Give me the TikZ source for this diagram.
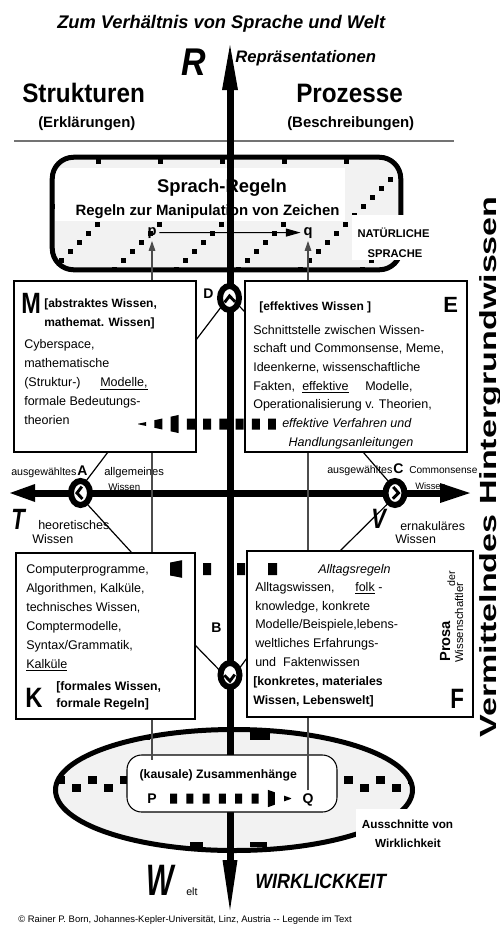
\documentclass[tikz,border=0pt]{standalone}
\usepackage{fontspec}
\setmainfont{Liberation Sans}
\usetikzlibrary{arrows.meta,shapes.geometric,calc}
\newcommand{\fsz}[1]{\fontsize{#1}{#1}\selectfont}
\begin{document}
\begin{tikzpicture}[x=0.75pt,y=-0.75pt,
 txt/.style={inner sep=0pt, anchor=base west},
 ctxt/.style={inner sep=0pt, anchor=base},
 bodyf/.style={txt, font=\fsz{9.4}},
 bl/.style={txt, font=\fsz{9.2}\bfseries},
 kbox/.style 2 args={draw, fill=white, line width=1.1pt, inner sep=0pt, minimum width={#1*0.75pt}, minimum height={#2*0.75pt}},
 ring/.style={ellipse, draw, line width=4.5pt, fill=white, inner sep=0pt, minimum width={19*0.75pt}, minimum height={24*0.75pt}},
 diag/.style={line width=0.9pt},
 chev/.style={line width=2.2pt},
 thinv/.style={line width=0.8pt, black!70},
 axisl/.style={line width=5.25pt},
 small/.style={txt, font=\fsz{8}},
]
\useasboundingbox (0,0) rectangle (500,933);

% ---------- heading
\node[txt, font=\fsz{13.7}\bfseries\itshape] (title) at (57,28) {Zum Verhältnis von Sprache und Welt};
\node[txt, font=\fsz{29}\bfseries\itshape] (Rl) at (181,75) {\scalebox{0.88}[1]{R}};
\node[txt, font=\fsz{12.5}\bfseries\itshape] (rep) at (235,62) {Repräsentationen};
\node[txt, font=\fsz{20}\bfseries] (str) at (22,102) {\scalebox{0.91}[1]{Strukturen}};
\node[txt, font=\fsz{20}\bfseries] (pro) at (296,102) {\scalebox{0.91}[1]{Prozesse}};
\node[txt, font=\fsz{11.2}\bfseries] (erk) at (38,127) {(Erklärungen)};
\node[txt, font=\fsz{11.2}\bfseries] (bes) at (287,127) {(Beschreibungen)};
\coordinate (hl1) at (14,141); \coordinate (hl2) at (454,141);
\draw[black!55, line width=0.8pt] (hl1) -- (hl2);

% ---------- Sprach-Regeln box
\node[fill=black!5, rounded corners=16pt, minimum width={348*0.75pt}, minimum height={112*0.75pt}, inner sep=0pt] (SR) at (226.5,213.5) {};
\begin{scope}
 \clip[rounded corners=16pt] (SR.south west) rectangle (SR.north east);
 \foreach \k in {-2,...,6}{\foreach \j in {0,...,15}{\fill (50+62*\k+9*\j,272-9*\j) rectangle ++(5,-5);}}
\end{scope}
\fill[white] (55,168) rectangle (345,221);
\draw[line width=3.75pt, rounded corners=16pt] (SR.south west) rectangle (SR.north east);

% ---------- ellipse (Wirklichkeit)
\coordinate (Ell) at (234,790);
\fill[black!5] (Ell) ellipse [x radius={178.5*0.75pt}, y radius={60.5*0.75pt}];
\begin{scope}
 \clip (Ell) ellipse [x radius={178.5*0.75pt}, y radius={60.5*0.75pt}];
 \foreach \i in {0,...,22}{\pgfmathsetmacro\yy{776+8*mod(\i,2)} \fill (56+16*\i,\yy) rectangle ++(9,8);}
 \fill (137,732) rectangle (150,740);
 \fill (250,732) rectangle (270,740);
 \fill (190,842) rectangle (203,847);
 \fill (250,842) rectangle (267,847);
\end{scope}
\draw[line width=3.75pt] (Ell) ellipse [x radius={178.5*0.75pt}, y radius={60.5*0.75pt}];

% ---------- labels partly under the horizontal axis
\node[small] (ausA) at (11,475) {ausgewähltes};
\node[txt, font=\fsz{10.5}\bfseries] (Alab) at (77,475) {A};
\node[txt, font=\fsz{8.4}] (allg) at (104,475) {allgemeines};
\node[txt, font=\fsz{7.3}] (allgW) at (108,490) {Wissen};
\node[small] (ausC) at (327,473) {ausgewähltes};
\node[txt, font=\fsz{10.5}\bfseries] (Clab) at (393,473) {C};
\node[txt, font=\fsz{7.6}] (comm) at (409,473) {Commonsense};
\node[txt, font=\fsz{7}] (commW) at (415,489) {Wissen};

% ---------- axes
\coordinate (Rtip) at (230,45); \coordinate (Wtip) at (230,910);
\coordinate (Ttip) at (10,493); \coordinate (Vtip) at (470,493);
\draw[axisl] ($(Rtip)+(0,43)$) -- ($(Wtip)+(0,-48)$);
\fill (Rtip) -- ++(8,45) -- ++(-16,0) -- cycle;
\fill (Wtip) -- ++(7.5,-50) -- ++(-15,0) -- cycle;
\draw[axisl] ($(Ttip)+(23,0)$) -- ($(Vtip)+(-28,0)$);
\fill (Ttip) -- ++(25,-9) -- ++(0,18) -- cycle;
\fill (Vtip) -- ++(-30,-10) -- ++(0,20) -- cycle;

% ---------- Sprach-Regeln texts
\node[ctxt, font=\fsz{13.8}\bfseries] (srt) at (222,192) {Sprach-Regeln};
\node[ctxt, font=\fsz{11.2}\bfseries] (srm) at (207.5,215) {Regeln zur Manipulation von Zeichen};
\node[ctxt, font=\fsz{11}\bfseries, inner sep=2pt] (p) at (152,235) {p};
\node[ctxt, font=\fsz{11}\bfseries, inner sep=2pt] (q) at (308,235) {q};
\draw[line width=0.75pt, -{Triangle[length=11pt,width=6pt]}] (p) -- (q);
\fill[white] (352,215) rectangle (436,260);
\node[ctxt, font=\fsz{8.4}\bfseries] (nat) at (393.5,237) {NATÜRLICHE};
\node[ctxt, font=\fsz{8.4}\bfseries] (spr) at (395,257) {SPRACHE};

% ---------- Zusammenhaenge
\node[draw, fill=white, rounded corners=11pt, line width=0.8pt, minimum width={210*0.75pt}, minimum height={57*0.75pt}, inner sep=0pt] (KZ) at (232,783.5) {};
\node[ctxt, font=\fsz{10.5}\bfseries, inner sep=2pt] (P) at (152,803) {P};
\node[ctxt, font=\fsz{10.5}\bfseries, inner sep=2pt] (Q) at (308,803) {Q};
\draw[thinv, -{Triangle[length=7.5pt,width=5pt]}] (P) -- (p);
\draw[thinv, -{Triangle[length=7.5pt,width=5pt]}] (Q) -- (q);
\node[txt, font=\fsz{9.2}\bfseries, fill=white, inner xsep=1pt, inner ysep=7pt] (kz) at (138,778) {(kausale) Zusammenhänge};
\begin{scope}
 \clip \foreach \k in {0,...,7}{(170+16.3*\k,780) rectangle ++(7,40)};
 \fill (168,793.5) -- (267,793.5) -- (267,789.5) -- (292,798.5) -- (267,807.5) -- (267,803.5) -- (168,803.5) -- cycle;
\end{scope}
\fill[white] (356,809) rectangle (458,852);
\node[ctxt, font=\fsz{8.8}\bfseries] (aus1) at (407.5,828) {Ausschnitte von};
\node[ctxt, font=\fsz{8.8}\bfseries] (aus2) at (408,847) {Wirklichkeit};

% ---------- boxes
\node[kbox={182}{171}] (M) at (105,366.5) {};
\node[kbox={222}{171}] (E) at (356,366.5) {};
\node[kbox={179}{166}] (K) at (105.5,636) {};
\node[kbox={226}{166}] (F) at (360,634) {};

% M
\node[txt, font=\fsz{22}\bfseries] (Ml) at (21,313) {\scalebox{0.8}[1]{M}};
\node[bl, font=\fsz{9}\bfseries] (Ma1) at (44,307) {[abstraktes Wissen,};
\node[bl, font=\fsz{9}\bfseries] (Ma2) at (44,326) {mathemat. Wissen]};
\foreach \t [count=\i from 0] in {{Cyberspace,},{mathematische},{(Struktur-)},{formale Bedeutungs-},{theorien}}
  \node[bodyf] (mb\i) at (24,348+19*\i) {\t};
\node[bodyf] (mmod) at (100,386) {\underline{Modelle,}};

% E
\node[txt, font=\fsz{16.5}\bfseries] (El) at (443,312) {E};
\node[bl, font=\fsz{9}\bfseries] (Ea) at (259,310) {[effektives Wissen ]};
\node[bodyf] (eb0) at (253,334) {Schnittstelle zwischen Wissen-};
\node[bodyf] (eb1) at (253,352.7) {schaft und Commonsense, Meme,};
\node[bodyf] (eb2) at (253,371.4) {Ideenkerne, wissenschaftliche};
\node[bodyf] (eb3) at (253,390.1) {Fakten,};
\node[bodyf] (eb3b) at (302,390.1) {\underline{effektive}};
\node[bodyf] (eb3c) at (365,390.1) {Modelle,};
\node[bodyf] (eb4) at (253,408.8) {Operationalisierung v. Theorien,};
\node[bodyf, font=\fsz{9.4}\itshape] (eb5) at (282,427.5) {effektive Verfahren und};
\node[ctxt, font=\fsz{9.4}\itshape] (eb6) at (351,446.2) {Handlungsanleitungen};

% K
\foreach \t [count=\i from 0] in {{Computerprogramme,},{Algorithmen, Kalküle,},{technisches Wissen,},{Comptermodelle,},{Syntax/Grammatik,},{\underline{Kalküle}}}
  \node[bodyf] (kb\i) at (26,573+19*\i) {\t};
\node[txt, font=\fsz{21}\bfseries] (Kl) at (25,707) {\scalebox{0.85}[1]{K}};
\node[bl] (Ka1) at (56,690) {[formales Wissen,};
\node[bl] (Ka2) at (56,707) {formale Regeln]};

% F
\node[txt, font=\fsz{9.4}\itshape] (alr) at (318,573) {Alltagsregeln};
\node[bodyf] (fb0) at (255,591.6) {Alltagswissen,};
\node[bodyf] (fb0b) at (355,591.6) {\underline{folk} -};
\foreach \t [count=\i from 1] in {{knowledge, konkrete},{Modelle/Beispiele,lebens-},{weltliches Erfahrungs-},{und\ \ Faktenwissen}}
  \node[bodyf] (fb\i) at (255,591.6+18.6*\i) {\t};
\node[bl] (Fa1) at (253,685) {[konkretes, materiales};
\node[bl] (Fa2) at (253,704) {Wissen, Lebenswelt]};
\node[txt, font=\fsz{21}\bfseries] (Fl) at (450,708) {\scalebox{0.8}[1]{F}};
\node[txt, rotate=90, font=\fsz{11}\bfseries] (prosa) at (450,662) {Prosa};
\node[txt, rotate=90, font=\fsz{8}] (der) at (455,587) {der};
\node[txt, rotate=90, font=\fsz{8.5}] (wiss) at (463,663) {Wissenschaftler};

% ---------- diagonals and rings
\coordinate (MA) at (108,452); \coordinate (KA) at (132,553); \coordinate (Avx) at (77,493);
\coordinate (EC) at (363,452); \coordinate (FC) at (340,551); \coordinate (Cvx) at (398.5,493);
\coordinate (MD) at (196,340); \coordinate (ED) at (245,312); \coordinate (Dvx) at (229.5,296);
\coordinate (KB) at (195,645); \coordinate (FB) at (247,658); \coordinate (Bvx) at (230,681);
\draw[diag] (MA) -- (Avx) -- (KA);
\draw[diag] (EC) -- (Cvx) -- (FC);
\draw[diag] (MD) -- (Dvx) -- (ED);
\draw[diag] (KB) -- (Bvx) -- (FB);
\node[ring] (A) at (80.5,493) {};
\node[ring] (C) at (395,493) {};
\node[ring] (D) at (229.5,298) {};
\node[ring] (B) at (230,675) {};
\draw[chev] ($(Avx)!6pt!(MA)$) -- (Avx) -- ($(Avx)!6pt!(KA)$);
\draw[chev] ($(Cvx)!6pt!(EC)$) -- (Cvx) -- ($(Cvx)!6pt!(FC)$);
\draw[chev] ($(Dvx)!6pt!(MD)$) -- (Dvx) -- ($(Dvx)!6pt!(ED)$);
\draw[chev] ($(Bvx)!6pt!(KB)$) -- (Bvx) -- ($(Bvx)!6pt!(FB)$);
\node[txt, font=\fsz{10.5}\bfseries] (Dlab) at (203,298) {D};
\node[txt, font=\fsz{10.5}\bfseries] (Blab) at (211,632) {B};

% ---------- dashed heavy arrows
\begin{scope}
 \clip \foreach \k in {0,...,8}{(138+16.25*\k,400) rectangle ++(8,50)};
 \fill (276,418.5) -- (183,418.5) -- (183,414) -- (137,424) -- (183,434) -- (183,429.5) -- (276,429.5) -- cycle;
\end{scope}
\begin{scope}
 \clip (170,540) rectangle (182,600) (203,540) rectangle (211,600) (237,540) rectangle (245,600) (268,540) rectangle (277,600);
 \fill (277,563) -- (183,563) -- (183,560) -- (137,569) -- (183,578) -- (183,575) -- (277,575) -- cycle;
\end{scope}

% ---------- T / V labels
\node[txt, font=\fsz{22}\bfseries\itshape] (Tl) at (11,529) {\scalebox{0.75}[1]{T}};
\node[txt, font=\fsz{9.4}] (heo) at (38,529) {heoretisches};
\node[txt, font=\fsz{9.4}] (heoW) at (32,543) {Wissen};
\node[txt, font=\fsz{21}\bfseries\itshape] (Vl) at (371,528) {\scalebox{0.78}[1]{V}};
\node[txt, font=\fsz{9.3}] (ern) at (400,530) {ernakuläres};
\node[txt, font=\fsz{9.3}] (ernW) at (395,543) {Wissen};

% ---------- bottom
\node[txt, font=\fsz{33}\bfseries\itshape] (Wl) at (146,895) {\scalebox{0.66}[1]{W}};
\node[txt, font=\fsz{8}] (elt) at (186,895) {elt};
\node[txt, font=\fsz{15.5}\bfseries\itshape] (wirk) at (255,888) {\scalebox{0.87}[1]{WIRKLICKKEIT}};
\node[txt, font=\fsz{7.1}] (copy) at (18,922) {© Rainer P. Born, Johannes-Kepler-Universität, Linz, Austria -{}- Legende im Text};

% ---------- vertical title
\node[txt, rotate=90, font=\fsz{17.5}\bfseries] (verm) at (496,738) {\scalebox{1.46}[1]{Vermittelndes Hintergrundwissen}};
\end{tikzpicture}
\end{document}
